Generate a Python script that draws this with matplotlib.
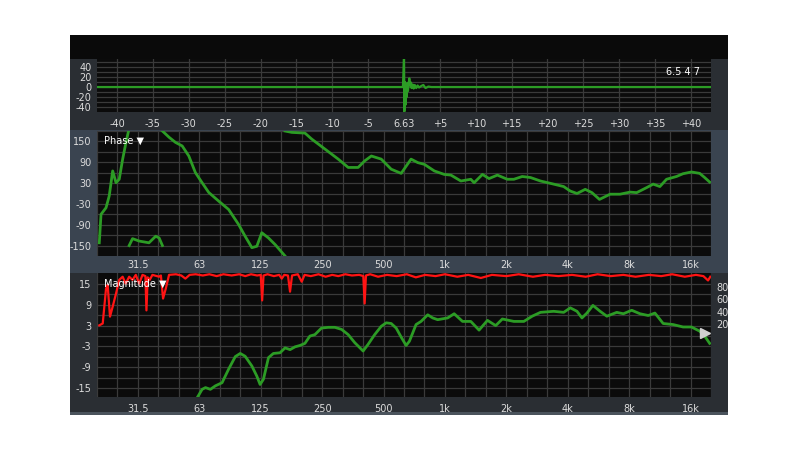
import numpy as np
import matplotlib
matplotlib.use("Agg")
import matplotlib.pyplot as plt
from matplotlib.patches import Rectangle

W, H = 800, 450

# --- impulse response (ms, relative to 6.63 ms peak) ---
imp_t = [-42.8, -20, -0.15, 0.0, 0.05, 0.12, 0.2, 0.28, 0.36, 0.45, 0.55, 0.65,
         0.74, 0.85, 0.95, 1.05, 1.2, 1.35, 1.5, 1.7, 1.9, 2.1, 2.4, 2.7, 3.0,
         3.4, 3.8, 4.3, 15, 42.8]
imp_a = [0, 0, 0, 58, -48, 10, -35, 6, -20, 8, -8, 6,
         17, 3, 9, -2, 5, -3, 4, -2, 3, -1, 2, 4, -2,
         1, 0, 0, 0, 0]
imp_ticks = [-40, -35, -30, -25, -20, -15, -10, -5, 0, 5, 10, 15, 20, 25, 30, 35, 40]
imp_labels = ["-40", "-35", "-30", "-25", "-20", "-15", "-10", "-5", "6.63",
              "+5", "+10", "+15", "+20", "+25", "+30", "+35", "+40"]

# --- phase (deg), wrapped segments split by nan ---
nan = np.nan
phase_f = [20.2, 20.6, 21.8, 22.6, 23.5, 24.4, 25.3, 26.3, 27.2, 28.1, nan,
           28.3, 29.4, 31.7, 35.4, 38.2, 39.7, 41.2, nan,
           41.2, 44.4, 47.8, 51.5, 55.5, 59.8, 64.5, 69.5, 77.8, 87.0, 97.3,
           104.8, 113.1, 119.6, 126.5, 136.4, 147.0, 164.5, nan,
           164.5, 177.5, 205.9, 222, 258, 299.9, 335.6, 375.3, 404.4, 435.8,
           487.3, 545.2, 610.1, 682.2, 735.9, 792.6, 887, 992, 1070, 1197,
           1339, 1390, 1527, 1645, 1808, 2022, 2178, 2393, 2628, 2940, 3413,
           3821, 4118, 4441, 4874, 5256, 5724, 6453, 7223, 8083, 8713, 9749,
           10497, 11318, 12204, 13654, 14707, 16167, 17744, 18767, 19855]
phase_deg = [-142, -60, -41, -7, 65, 31, 41, 99, 142, 180, nan,
             -150, -130, -137, -142, -123, -128, -150, nan,
             180, 162, 147, 137, 108, 60, 31, 3, -22, -46, -89,
             -123, -156, -152, -113, -128, -147, -180, nan,
             180, 176, 174, 157, 128, 99, 75, 75, 94, 108,
             99, 70, 58, 99, 89, 84, 65, 55, 53, 36,
             41, 31, 55, 43, 53, 41, 41, 49, 46, 36, 27,
             20, 7, 0, 12, 2.5, -17, -2, -2, 4, 2.5, 17,
             27, 20, 41, 49, 57, 62, 58, 46, 33]

# --- magnitude (dB) ---
mag_f = [61.0, 64.5, 67.0, 70.8, 74.9, 80.8, 87.0, 93.8, 99.2, 104.8, 113.1,
         119.6, 124.1, 128.9, 136.4, 144.2, 155.5, 164.5, 174.1, 184.1, 194.8,
         205.9, 217.8, 230.3, 248.3, 267.9, 288.7, 311.5, 335.6, 361.3, 397.1,
         419.9, 452.3, 487.3, 515.4, 545.2, 576.6, 610.1, 645.3, 669.5, 721.8,
         763.6, 823.5, 870.8, 921.3, 1031, 1110, 1220, 1339, 1470, 1616, 1774,
         1912, 2178, 2437, 2678, 2940, 3413, 3821, 4118, 4441, 4698, 4969,
         5315, 5768, 6219, 6959, 7496, 8237, 9044, 9926, 10702, 11747, 13141,
         14707, 16167, 17744, 18767, 19855]
mag_db = [-17.7, -15.3, -14.8, -15.3, -14.3, -13.4, -9.5, -5.9, -5.0, -5.8, -8.6,
          -11.5, -13.9, -12.4, -6.2, -5.0, -4.8, -3.4, -3.9, -3.1, -2.7,
          -2.1, 0.0, 0.4, 2.3, 2.5, 2.5, 1.9, 0.4, -1.9, -4.3,
          -2.4, 0.4, 2.8, 3.8, 3.6, 2.3, -0.3, -2.7, -1.5, 3.3,
          4.2, 6.1, 5.2, 4.7, 5.2, 6.4, 4.2, 4.2, 1.7, 4.5, 3.0,
          4.9, 4.2, 4.2, 5.7, 6.8, 7.1, 6.8, 8.1, 7.1, 5.2, 6.6,
          8.8, 7.1, 5.7, 6.8, 6.4, 7.4, 6.4, 5.9, 6.6, 3.6, 3.3,
          2.6, 2.6, 1.4, 0.0, -2.1]

# --- coherence (%) ---
coh_f = [20.2, 21.0, 21.8, 22.2, 22.8, 23.5, 24.4, 25.3, 26.3, 27.2, 28.3, 29.4,
         30.5, 31.7, 32.9, 34.0, 34.4, 34.9, 35.7, 36.8, 39.7, 40.5, 41.5, 42.8,
         44.4, 48, 51, 53.4, 56, 60, 65, 70, 76, 82, 90, 98, 105, 112, 120, 125,
         127, 129, 135, 145, 154, 158.5, 163, 170, 174, 178, 190, 198.5, 205,
         220, 240, 260, 280, 300, 325, 350, 380, 398, 404, 410, 430, 470, 520,
         580, 650, 720, 800, 900, 1000, 1150, 1300, 1500, 1700, 2000, 2300,
         2700, 3100, 3600, 4200, 4900, 5600, 6500, 7500, 8600, 10000, 11500,
         13000, 15000, 17000, 18500, 19500, 20000]
coh_pct = [18, 21, 77, 83, 32, 48, 69, 91, 96, 85, 96, 91,
           99, 85, 99, 97, 42, 95, 91, 99, 96, 98, 61, 77,
           99, 100, 98, 93, 99, 100, 98, 100, 97, 100, 98, 100, 97, 100, 98, 99,
           58, 98, 100, 97, 99, 93, 99, 98, 72, 98, 100, 88, 99,
           97, 100, 96, 99, 97, 100, 98, 99, 97, 53, 98, 100, 96, 99,
           97, 100, 95, 99, 97, 100, 96, 99, 94, 99, 97, 100,
           96, 99, 97, 99, 96, 100, 97, 99, 96, 99, 97,
           100, 96, 99, 97, 90, 96]

oct_ticks = [31.25, 62.5, 125, 250, 500, 1000, 2000, 4000, 8000, 16000]
oct_labels = ["31.5", "63", "125", "250", "500", "1k", "2k", "4k", "8k", "16k"]
third_oct = [1000 * 2 ** (k / 3) for k in range(-17, 14)]

GREEN = "#2c9c25"
RED = "#ff1414"
PLOT_BG = "#0b0b0b"
GRID = "#3a3a3a"
TXT = "#dcdcdc"


def frac(x0, y0, x1, y1):
    return [x0 / W, 1 - y1 / H, (x1 - x0) / W, (y1 - y0) / H]


def panel(fig, x0, y0, x1, y1, color):
    l, b, w, h = frac(x0, y0, x1, y1)
    fig.add_artist(Rectangle((l, b), w, h, transform=fig.transFigure,
                             facecolor=color, edgecolor="none", zorder=0))


def style(ax):
    ax.set_facecolor(PLOT_BG)
    for s in ax.spines.values():
        s.set_visible(False)
    ax.tick_params(which="both", length=0, labelsize=7, colors=TXT)


fig = plt.figure(figsize=(8, 4.5), dpi=100, facecolor="white")

panel(fig, 70, 35, 728, 415, "#2a2e33")
panel(fig, 70, 35, 728, 59, "#0a0a0a")
panel(fig, 70, 130, 728, 273, "#3a4450")
panel(fig, 70, 412, 728, 415, "#4a535c")

# impulse
ax1 = fig.add_axes(frac(97, 59, 711, 112))
style(ax1)
ax1.plot(imp_t, imp_a, color=GREEN, lw=1.6, solid_joinstyle="round")
ax1.set_xlim(-42.8, 42.8)
ax1.set_ylim(-49, 55)
ax1.set_xticks(imp_ticks)
ax1.set_xticklabels(imp_labels)
ax1.set_yticks([-40, -30, -20, -10, 0, 10, 20, 30, 40, 50])
ax1.set_yticklabels(["-40", "", "-20", "", "0", "", "20", "", "40", ""])
ax1.tick_params(axis="x", pad=5)
ax1.tick_params(axis="y", pad=4)
ax1.grid(True, color=GRID, lw=0.9)
ax1.set_axisbelow(True)
ax1.text(0.954, 0.755, "6.5 4 7", transform=ax1.transAxes, color="white",
         fontsize=7, ha="center", va="center")

# phase
ax2 = fig.add_axes(frac(97, 131, 711, 256))
style(ax2)
ax2.set_xscale("log")
ax2.plot(phase_f, phase_deg, color=GREEN, lw=2.0, solid_joinstyle="round")
ax2.set_xlim(20.3, 20100)
ax2.set_ylim(-180, 180)
ax2.set_xticks(third_oct, minor=True)
ax2.set_xticks(oct_ticks)
ax2.set_xticklabels(oct_labels)
ax2.xaxis.set_minor_formatter(matplotlib.ticker.NullFormatter())
ax2.set_yticks(range(-150, 181, 30))
ax2.set_yticklabels(["-150", "", "-90", "", "-30", "", "30", "", "90", "", "150", ""])
ax2.tick_params(axis="x", which="both", pad=3)
ax2.tick_params(axis="y", pad=4)
ax2.grid(True, which="both", color=GRID, lw=0.9)
ax2.set_axisbelow(True)
ax2.text(0.011, 0.92, "Phase \u25BC", transform=ax2.transAxes, color="white",
         fontsize=7, ha="left", va="center")

# magnitude + coherence
ax3 = fig.add_axes(frac(97, 273, 711, 397))
style(ax3)
ax3.set_xscale("log")
ax3c = ax3.twinx()
for s in ax3c.spines.values():
    s.set_visible(False)
ax3c.plot(coh_f, coh_pct, color=RED, lw=1.6, solid_joinstyle="round")
ax3c.set_ylim(-97, 102)
ax3c.set_yticks([20, 40, 60, 80])
ax3c.tick_params(length=0, labelsize=7, colors=TXT, pad=4)
ax3.plot(mag_f, mag_db, color=GREEN, lw=2.0, solid_joinstyle="round", zorder=3)
ax3.set_xlim(20.3, 20100)
ax3.set_ylim(-17.5, 18.1)
ax3.set_xticks(third_oct, minor=True)
ax3.set_xticks(oct_ticks)
ax3.set_xticklabels(oct_labels)
ax3.xaxis.set_minor_formatter(matplotlib.ticker.NullFormatter())
ax3.set_yticks(range(-15, 18, 3))
ax3.set_yticklabels(["-15", "", "-9", "", "-3", "", "3", "", "9", "", "15"])
ax3.tick_params(axis="x", which="both", pad=5)
ax3.tick_params(axis="y", pad=4)
ax3.grid(True, which="both", color=GRID, lw=0.9)
ax3.set_axisbelow(True)
ax3c.text(0.011, 0.91, "Magnitude \u25BC", transform=ax3.transAxes, color="white",
          fontsize=7, ha="left", va="center", zorder=5)
ax3c.plot([0.99], [0.516], marker=">", ms=7, color="#d0d0d0",
          transform=ax3.transAxes, clip_on=False, zorder=6)

fig.savefig("out.png", dpi=100, facecolor="white")
